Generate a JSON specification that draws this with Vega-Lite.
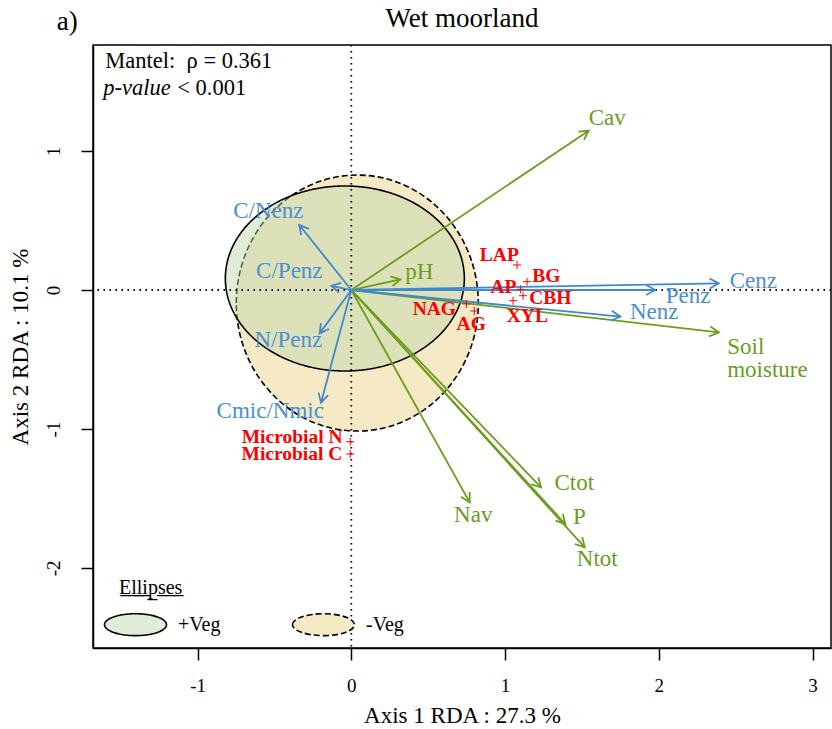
{
  "$schema": "https://vega.github.io/schema/vega-lite/v6.json",
  "width": 738,
  "height": 603,
  "autosize": {"type": "none"},
  "padding": {"left": 93, "top": 45, "right": 1, "bottom": 81},
  "background": "white",
  "config": {
    "view": {"stroke": "black", "strokeWidth": 1.5},
    "font": "Liberation Serif",
    "axis": {"grid": false, "domainColor": "black", "domainWidth": 1.5, "tickColor": "black", "tickWidth": 1.5, "tickSize": 12, "labelFont": "Liberation Serif", "labelFontSize": 19, "labelColor": "black", "titleFont": "Liberation Serif", "titleFontSize": 23, "titleFontWeight": "normal", "titleColor": "black"}
  },
  "title": {"text": "Wet moorland", "font": "Liberation Serif", "fontSize": 27, "fontWeight": "normal", "color": "black", "offset": -25, "frame": "group", "anchor": "middle"},
  "datasets": {
    "ellipses": [
      {"group": "-Veg", "cx": 0.039, "cy": -0.094},
      {"group": "+Veg", "cx": -0.042, "cy": 0.083}
    ],
    "arrows": [
      {"name": "Cav", "set": "env", "x": 1.544, "y": 1.146, "lx": 1.665, "ly": 1.238},
      {"name": "pH", "set": "env", "x": 0.319, "y": 0.077, "lx": 0.442, "ly": 0.13},
      {"name": "Soil\nmoisture", "set": "env", "x": 2.39, "y": -0.305, "lx": 2.445, "ly": -0.41},
      {"name": "Nav", "set": "env", "x": 0.77, "y": -1.528, "lx": 0.793, "ly": -1.62},
      {"name": "Ctot", "set": "env", "x": 1.234, "y": -1.42, "lx": 1.45, "ly": -1.39},
      {"name": "P", "set": "env", "x": 1.392, "y": -1.684, "lx": 1.483, "ly": -1.633},
      {"name": "Ntot", "set": "env", "x": 1.518, "y": -1.852, "lx": 1.6, "ly": -1.936},
      {"name": "Cenz", "set": "enz", "x": 2.39, "y": 0.048, "lx": 2.615, "ly": 0.065},
      {"name": "Penz", "set": "enz", "x": 1.977, "y": 0.0, "lx": 2.19, "ly": -0.043},
      {"name": "Nenz", "set": "enz", "x": 1.75, "y": -0.192, "lx": 1.97, "ly": -0.158},
      {"name": "C/Nenz", "set": "enz", "x": -0.338, "y": 0.468, "lx": -0.54, "ly": 0.568},
      {"name": "C/Penz", "set": "enz", "x": -0.13, "y": 0.029, "lx": -0.403, "ly": 0.137},
      {"name": "N/Penz", "set": "enz", "x": -0.206, "y": -0.312, "lx": -0.41, "ly": -0.36},
      {"name": "Cmic/Nmic", "set": "enz", "x": -0.197, "y": -0.811, "lx": -0.527, "ly": -0.871}
    ],
    "enzymes": [
      {"name": "LAP", "x": 1.078, "y": 0.18, "lx": 0.963, "ly": 0.252},
      {"name": "BG", "x": 1.143, "y": 0.06, "lx": 1.268, "ly": 0.1},
      {"name": "AP", "x": 1.1, "y": 0.005, "lx": 0.99, "ly": 0.022},
      {"name": "CBH", "x": 1.117, "y": -0.041, "lx": 1.295, "ly": -0.058},
      {"name": "XYL", "x": 1.052, "y": -0.077, "lx": 1.145, "ly": -0.187},
      {"name": "NAG", "x": 0.748, "y": -0.1, "lx": 0.54, "ly": -0.137},
      {"name": "AG", "x": 0.8, "y": -0.151, "lx": 0.78, "ly": -0.245},
      {"name": "Microbial N", "x": -0.007, "y": -1.092, "lx": -0.385, "ly": -1.058},
      {"name": "Microbial C", "x": -0.007, "y": -1.18, "lx": -0.386, "ly": -1.18}
    ]
  },
  "layer": [
    {
      "data": {"name": "ellipses"},
      "mark": {"type": "point", "filled": true, "size": 4, "stroke": "black", "strokeWidth": 1.6, "opacity": 1, "clip": true},
      "encoding": {
        "x": {"field": "cx", "type": "quantitative", "scale": {"domain": [-1.68, 3.12], "nice": false, "zero": false}, "axis": {"values": [-1, 0, 1, 2, 3], "labelExpr": "'' + datum.value", "title": "Axis 1 RDA : 27.3 %", "labelPadding": 16, "titlePadding": 9, "labelFlush": false}},
        "y": {"field": "cy", "type": "quantitative", "scale": {"domain": [-2.576, 1.763], "nice": false, "zero": false}, "axis": {"values": [-2, -1, 0, 1], "labelExpr": "'' + datum.value", "title": "Axis 2 RDA : 10.1 %", "labelAngle": 270, "labelPadding": 18, "titlePadding": 12, "labelFlush": false}},
        "fill": {"field": "group", "type": "nominal", "scale": {"domain": ["+Veg", "-Veg"], "range": ["rgba(190,215,168,0.45)", "#f6e9c6"]},
          "legend": {"title": "E\u0332l\u0332l\u0332i\u0332p\u0332s\u0332e\u0332s\u0332", "orient": "none", "legendX": 26, "legendY": 533, "direction": "horizontal",
            "symbolType": "M-2,0C-2,-0.39 -1.104,-0.706 0,-0.706C1.104,-0.706 2,-0.39 2,0C2,0.39 1.104,0.706 0,0.706C-1.104,0.706 -2,0.39 -2,0Z",
            "symbolSize": 961, "symbolStrokeColor": "black", "symbolStrokeWidth": 1.6, "symbolOpacity": 1,
            "labelFont": "Liberation Serif", "labelFontSize": 20, "labelColor": "black", "labelOffset": 26,
            "titleFont": "Liberation Serif", "titleFontSize": 20, "titleFontWeight": "normal", "titleColor": "black", "titlePadding": 10,
            "columnPadding": 68}},
        "strokeDash": {"field": "group", "type": "nominal", "scale": {"domain": ["+Veg", "-Veg"], "range": [[1, 0], [6, 3]]}},
        "shape": {"field": "group", "type": "nominal", "legend": null, "scale": {"domain": ["+Veg", "-Veg", "_"], "range": [
          "M-119.5,0C-119.5,-51.1 -66,-92.5 0,-92.5C66,-92.5 119.5,-51.1 119.5,0C119.5,51.1 66,92.5 0,92.5C-66,92.5 -119.5,51.1 -119.5,0Z",
          "M-121,0C-121,-70.7 -66.8,-128 0,-128C66.8,-128 121,-70.7 121,0C121,70.7 66.8,128 0,128C-66.8,128 -121,70.7 -121,0Z",
          "circle"]}}
      }
    },
    {
      "data": {"values": [{}]},
      "mark": {"type": "rule", "color": "black", "strokeWidth": 1.8, "strokeDash": [1.5, 4.5]},
      "encoding": {"x": {"datum": 0, "type": "quantitative"}}
    },
    {
      "data": {"values": [{}]},
      "mark": {"type": "rule", "color": "black", "strokeWidth": 1.8, "strokeDash": [1.5, 4.5]},
      "encoding": {"y": {"datum": 0, "type": "quantitative"}}
    },
    {
      "data": {"name": "arrows"},
      "mark": {"type": "rule", "strokeWidth": 1.8},
      "encoding": {
        "x": {"field": "x", "type": "quantitative"},
        "y": {"field": "y", "type": "quantitative"},
        "x2": {"datum": 0},
        "y2": {"datum": 0},
        "stroke": {"field": "set", "type": "nominal", "legend": null, "scale": {"domain": ["env", "enz"], "range": ["#6a9d1c", "#3f89cc"]}}
      }
    },
    {
      "data": {"name": "arrows"},
      "transform": [{"calculate": "atan2(-datum.y * 138.97, datum.x * 153.75) * 180 / PI", "as": "ang"}],
      "mark": {"type": "point", "filled": false, "shape": "M-1,-0.55L0,0L-1,0.55", "size": 330, "strokeWidth": 1.8, "opacity": 1},
      "encoding": {
        "x": {"field": "x", "type": "quantitative"},
        "y": {"field": "y", "type": "quantitative"},
        "angle": {"field": "ang", "type": "quantitative", "scale": null},
        "stroke": {"field": "set", "type": "nominal", "legend": null}
      }
    },
    {
      "data": {"name": "arrows"},
      "transform": [{"filter": "datum.name !== 'Soil\\nmoisture'"}],
      "mark": {"type": "text", "font": "Liberation Serif", "fontSize": 23, "align": "center", "baseline": "middle"},
      "encoding": {
        "x": {"field": "lx", "type": "quantitative"},
        "y": {"field": "ly", "type": "quantitative"},
        "text": {"field": "name", "type": "nominal"},
        "color": {"field": "set", "type": "nominal", "legend": null, "scale": {"domain": ["env", "enz"], "range": ["#6a9d1c", "#4a8fd2"]}}
      }
    },
    {
      "data": {"name": "arrows"},
      "transform": [{"filter": "datum.name === 'Soil\\nmoisture'"}],
      "mark": {"type": "text", "font": "Liberation Serif", "fontSize": 23, "align": "left", "baseline": "middle", "lineBreak": "\n", "lineHeight": 23, "color": "#6a9d1c"},
      "encoding": {
        "x": {"field": "lx", "type": "quantitative"},
        "y": {"field": "ly", "type": "quantitative"},
        "text": {"field": "name", "type": "nominal"}
      }
    },
    {
      "data": {"name": "enzymes"},
      "mark": {"type": "point", "filled": false, "shape": "M-1,0L1,0M0,-1L0,1", "size": 64, "stroke": "#ff0000", "strokeWidth": 1, "opacity": 1},
      "encoding": {
        "x": {"field": "x", "type": "quantitative"},
        "y": {"field": "y", "type": "quantitative"}
      }
    },
    {
      "data": {"name": "enzymes"},
      "mark": {"type": "text", "font": "Liberation Serif", "fontSize": 19.5, "fontWeight": "bold", "color": "#ff0000", "align": "center", "baseline": "middle"},
      "encoding": {
        "x": {"field": "lx", "type": "quantitative"},
        "y": {"field": "ly", "type": "quantitative"},
        "text": {"field": "name", "type": "nominal"}
      }
    },
    {
      "data": {"values": [{"label": "a)", "x": -1.847, "y": 1.928}]},
      "mark": {"type": "text", "font": "Liberation Serif", "fontSize": 27, "color": "black", "align": "center", "baseline": "middle"},
      "encoding": {
        "x": {"field": "x", "type": "quantitative"},
        "y": {"field": "y", "type": "quantitative"},
        "text": {"field": "label", "type": "nominal"}
      }
    },
    {
      "data": {"values": [{"label": "Mantel:\u00a0\u00a0\u03c1 = 0.361", "x": -1.6, "y": 1.648}, {"label": "< 0.001", "x": -1.132, "y": 1.454}]},
      "mark": {"type": "text", "font": "Liberation Serif", "fontSize": 22.5, "color": "black", "align": "left", "baseline": "middle"},
      "encoding": {
        "x": {"field": "x", "type": "quantitative"},
        "y": {"field": "y", "type": "quantitative"},
        "text": {"field": "label", "type": "nominal"}
      }
    },
    {
      "data": {"values": [{"label": "p-value", "x": -1.613, "y": 1.454}]},
      "mark": {"type": "text", "font": "Liberation Serif", "fontSize": 22.5, "fontStyle": "italic", "color": "black", "align": "left", "baseline": "middle"},
      "encoding": {
        "x": {"field": "x", "type": "quantitative"},
        "y": {"field": "y", "type": "quantitative"},
        "text": {"field": "label", "type": "nominal"}
      }
    }
  ]
}
